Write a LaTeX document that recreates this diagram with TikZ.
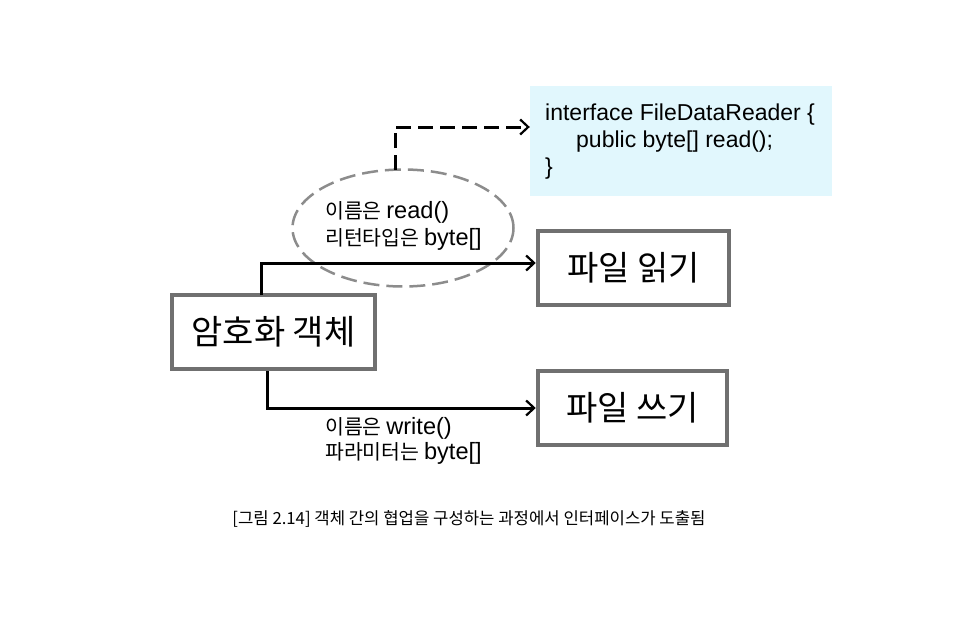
\documentclass[tikz,border=0pt]{standalone}
\usepackage{fontspec}
\setmainfont{Noto Sans CJK KR}
\newfontfamily\lat[Scale=1.15]{Liberation Sans}
\newfontfamily\latn{Liberation Sans}
\usetikzlibrary{arrows.meta,shapes.geometric}
\definecolor{boxgray}{HTML}{707070}
\definecolor{ellgray}{HTML}{8C8C8C}
\definecolor{lightblue}{HTML}{E1F7FD}
\tikzset{
  objbox/.style={draw=boxgray, line width=4.5pt, fill=white, inner sep=0pt, font=\fontsize{34}{38}\selectfont},
  tip/.style={-{Straight Barb[length=8pt,width=15pt,line width=2.2pt]}},
  conn/.style={line width=3pt, tip},
  lbl/.style={font=\fontsize{20.5}{26}\selectfont, align=left, inner sep=0pt, anchor=west},
  code/.style={font=\latn\fontsize{23}{28}\selectfont, inner sep=0pt, anchor=west}
}
\begin{document}
\begin{tikzpicture}[x=1pt,y=-1pt]
\useasboundingbox (0,0) rectangle (961,642);
\node[objbox, minimum width=203pt, minimum height=74pt] (enc) at (273.5,332) {암호화 객체};
\node[objbox, minimum width=191pt, minimum height=74pt] (read) at (633.5,268) {파일 읽기};
\node[objbox, minimum width=189pt, minimum height=74pt] (write) at (632.5,408) {파일 쓰기};
\node[fill=lightblue, minimum width=302pt, minimum height=110pt, inner sep=0pt] (iface) at (681,141) {};
\node[code] at (545,115) {interface FileDataReader \{};
\node[code] at (576,142) {public byte[] read();};
\node[code] at (545,169) {\}};
\node[ellipse, draw=ellgray, dash pattern=on 16pt off 7pt, line width=2.5pt, minimum width=221pt, minimum height=117pt] (ell) at (403,228) {};
\node[lbl] at (325,212) {이름은 {\lat read()}};
\node[lbl] at (325,239) {리턴타입은 {\lat byte[]}};
\coordinate (a1) at (261,295);
\draw[conn] (a1) |- ([yshift=5pt]read.west);
\draw[conn] ([xshift=-6.5pt]enc.south) |- (write.west);
\coordinate (d1) at (395,170);
\draw[line width=3pt, dash pattern=on 15pt off 7pt, tip] (d1) |- (iface.west |- 0,127);
\node[lbl] at (325,428) {이름은 {\lat write()}};
\node[lbl] at (325,453) {파라미터는 {\lat byte[]}};
\node[font=\fontsize{16.7}{20}\selectfont, inner sep=0pt] (cap) at (469,519) {[그림 2.14] 객체 간의 협업을 구성하는 과정에서 인터페이스가 도출됨};
\end{tikzpicture}
\end{document}
